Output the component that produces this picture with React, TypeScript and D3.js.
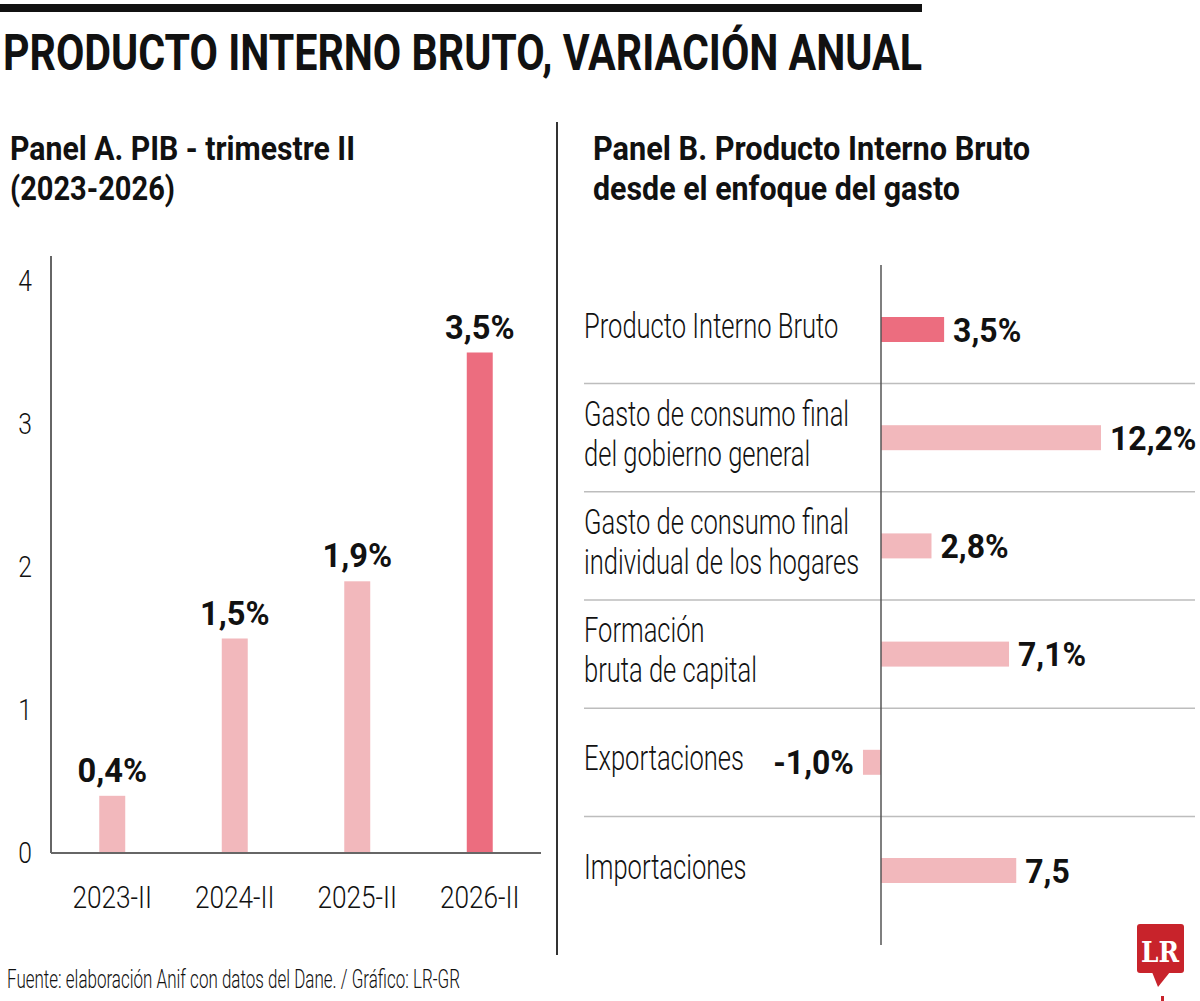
import * as d3 from 'd3'

// Panel A: PIB trimestre II
const quarters = ['2023-II', '2024-II', '2025-II', '2026-II']
const quarterValues = [0.4, 1.5, 1.9, 3.5]
const quarterLabels = ['0,4%', '1,5%', '1,9%', '3,5%']
const quarterTicks = [0, 1, 2, 3, 4]
const highlightQuarter = '2026-II'

// Panel B: PIB desde el enfoque del gasto
const components = [
  'Producto Interno Bruto',
  'Gasto de consumo final del gobierno general',
  'Gasto de consumo final individual de los hogares',
  'Formación bruta de capital',
  'Exportaciones',
  'Importaciones',
]
const componentLines = [
  ['Producto Interno Bruto'],
  ['Gasto de consumo final', 'del gobierno general'],
  ['Gasto de consumo final', 'individual de los hogares'],
  ['Formación', 'bruta de capital'],
  ['Exportaciones'],
  ['Importaciones'],
]
const componentValues = [3.5, 12.2, 2.8, 7.1, -1.0, 7.5]
const componentLabels = ['3,5%', '12,2%', '2,8%', '7,1%', '-1,0%', '7,5']
const highlightComponent = 'Producto Interno Bruto'

const DARK = '#ec6d7f'
const LIGHT = '#f2b8bc'
const FONT = 'Roboto, "Liberation Sans", sans-serif'

type STextProps = {
  x: number
  y: number
  sx?: number
  size: number
  weight?: number
  anchor?: 'start' | 'middle' | 'end'
  fill?: string
  children: string
}

// text squeezed horizontally to imitate the condensed face of the original
function SText({ x, y, sx = 1, size, weight = 300, anchor = 'start', fill = '#111', children }: STextProps) {
  return (
    <text
      transform={`translate(${x},${y}) scale(${sx},1)`}
      fontFamily={FONT}
      fontSize={size}
      fontWeight={weight}
      textAnchor={anchor}
      fill={fill}
    >
      {children}
    </text>
  )
}

function PanelA() {
  const x = d3.scaleBand<string>().domain(quarters).range([51, 541]).paddingInner(0.788).paddingOuter(0.394)
  const y = d3.scaleLinear().domain([0, 4]).range([853, 281])
  const [y0] = y.range()

  return (
    <g>
      {quarterTicks.map((t) => (
        <SText key={t} x={25} y={y(t) + 10} sx={0.85} size={29} anchor="middle">
          {String(t)}
        </SText>
      ))}
      {quarters.map((q, i) => (
        <rect
          key={q}
          x={x(q)}
          y={y(quarterValues[i])}
          width={x.bandwidth()}
          height={y0 - y(quarterValues[i])}
          fill={q === highlightQuarter ? DARK : LIGHT}
        />
      ))}
      <line x1={51} x2={51} y1={y(4) - 25} y2={y0} stroke="#666" strokeWidth={2} />
      <line x1={51} x2={541} y1={y0} y2={y0} stroke="#666" strokeWidth={2} />
      {quarters.map((q, i) => (
        <SText
          key={q}
          x={(x(q) ?? 0) + x.bandwidth() / 2}
          y={y(quarterValues[i]) - 14}
          sx={0.96}
          size={34}
          weight={700}
          anchor="middle"
        >
          {quarterLabels[i]}
        </SText>
      ))}
      {quarters.map((q) => (
        <SText key={q} x={(x(q) ?? 0) + x.bandwidth() / 2} y={908} sx={0.82} size={32} anchor="middle">
          {q}
        </SText>
      ))}
    </g>
  )
}

function PanelB() {
  const x = d3.scaleLinear().domain([0, 12.2]).range([881, 1101])
  const y = d3.scaleBand<string>().domain(components).range([275.4, 924.6]).paddingInner(0.769).paddingOuter(0.3845)
  const step = y.step()

  return (
    <g>
      {components.slice(1).map((c) => (
        <line
          key={c}
          x1={584}
          x2={1195}
          y1={(y(c) ?? 0) - (step - y.bandwidth()) / 2}
          y2={(y(c) ?? 0) - (step - y.bandwidth()) / 2}
          stroke="#bdbdbd"
          strokeWidth={1.5}
        />
      ))}
      {components.map((c, i) => {
        const v = componentValues[i]
        const cy = (y(c) ?? 0) + y.bandwidth() / 2
        const lines = componentLines[i]
        return (
          <g key={c}>
            <rect
              x={Math.min(x(0), x(v))}
              y={y(c)}
              width={Math.abs(x(v) - x(0))}
              height={y.bandwidth()}
              fill={c === highlightComponent ? DARK : LIGHT}
            />
            {lines.map((ln, j) => (
              <SText key={ln} x={584} y={cy + 8 + (j - (lines.length - 1) / 2) * 40} sx={0.73} size={35}>
                {ln}
              </SText>
            ))}
            <SText
              x={v >= 0 ? x(v) + 9 : x(v) - 9}
              y={cy + 12}
              sx={0.94}
              size={34}
              weight={700}
              anchor={v >= 0 ? 'start' : 'end'}
            >
              {componentLabels[i]}
            </SText>
          </g>
        )
      })}
      <line x1={881} x2={881} y1={265} y2={945} stroke="#555" strokeWidth={1.5} />
    </g>
  )
}

export default function App() {
  return (
    <div style={{ position: 'absolute', left: 0, top: 0, background: '#fff' }}>
      <svg width={1200} height={1001} viewBox="0 0 1200 1001" style={{ display: 'block' }}>
        <rect width={1200} height={1001} fill="#fff" />
        <rect x={0} y={4} width={922} height={8} fill="#111" />
        <text x={3} y={70} fontFamily={FONT} fontSize={50} fontWeight={700} fill="#111" textLength={919} lengthAdjust="spacingAndGlyphs">
          PRODUCTO INTERNO BRUTO, VARIACIÓN ANUAL
        </text>

        <text x={10} y={160} fontFamily={FONT} fontSize={34} fontWeight={700} fill="#111" textLength={345} lengthAdjust="spacingAndGlyphs">
          Panel A. PIB - trimestre II
        </text>
        <text x={10} y={200} fontFamily={FONT} fontSize={34} fontWeight={700} fill="#111" textLength={165} lengthAdjust="spacingAndGlyphs">
          (2023-2026)
        </text>
        <text x={593} y={160} fontFamily={FONT} fontSize={34} fontWeight={700} fill="#111" textLength={437} lengthAdjust="spacingAndGlyphs">
          Panel B. Producto Interno Bruto
        </text>
        <text x={593} y={200} fontFamily={FONT} fontSize={34} fontWeight={700} fill="#111" textLength={367} lengthAdjust="spacingAndGlyphs">
          desde el enfoque del gasto
        </text>

        <line x1={557} x2={557} y1={122} y2={955} stroke="#333" strokeWidth={2} />

        <PanelA />
        <PanelB />

        <text x={7} y={988} fontFamily={FONT} fontSize={25} fontWeight={300} fill="#111" textLength={453} lengthAdjust="spacingAndGlyphs">
          Fuente: elaboración Anif con datos del Dane. / Gráfico: LR-GR
        </text>

        {/* LR logo */}
        <g>
          <rect x={1137} y={924} width={47} height={49} rx={3} fill="#c8232b" />
          <path d="M1152,972 L1170,972 L1158,987 Z" fill="#c8232b" />
          <text x={1160} y={962} fontFamily='"DejaVu Serif", "Liberation Serif", serif' fontSize={27} fontWeight={700} fill="#fff" textAnchor="middle" textLength={38} lengthAdjust="spacingAndGlyphs">
            LR
          </text>
          <rect x={1161} y={996} width={3} height={5} fill="#c8232b" />
        </g>
      </svg>
    </div>
  )
}
